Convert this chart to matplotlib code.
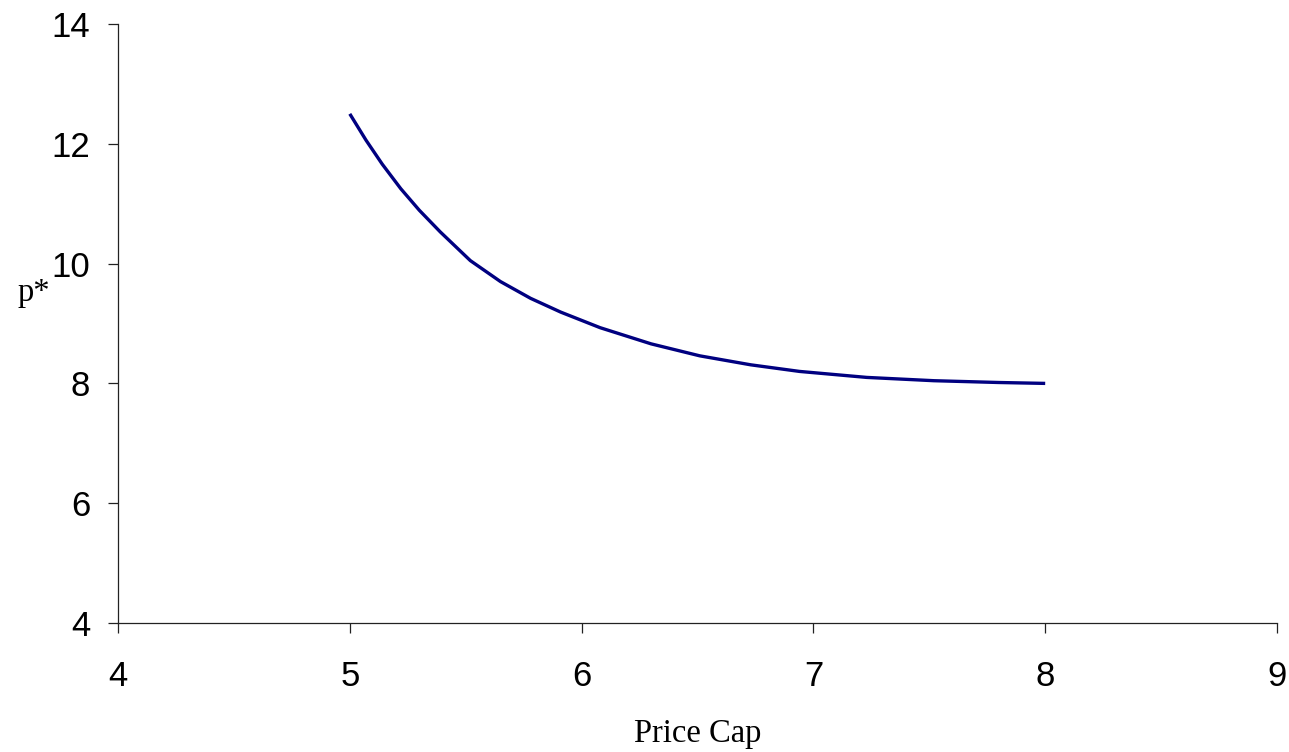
import matplotlib
matplotlib.use("Agg")
import matplotlib.pyplot as plt

price_cap = [5.00, 5.07, 5.14, 5.22, 5.30, 5.39, 5.52, 5.65, 5.78, 5.91, 6.08,
             6.30, 6.51, 6.73, 6.94, 7.23, 7.52, 7.80, 8.00]
p_star = [12.50, 12.06, 11.66, 11.25, 10.89, 10.53, 10.05, 9.70, 9.42, 9.19, 8.93,
          8.66, 8.46, 8.31, 8.20, 8.10, 8.045, 8.015, 8.00]
x_ticks = [4, 5, 6, 7, 8, 9]
y_ticks = [4, 6, 8, 10, 12, 14]

fig = plt.figure(figsize=(12.89, 7.52), dpi=100)
ax = fig.add_axes([118 / 1289, (752 - 623) / 752, (1277 - 118) / 1289, (623 - 24) / 752])

ax.plot(price_cap, p_star, color="#000080", linewidth=2.4, solid_capstyle="butt",
        solid_joinstyle="round")

ax.set_xlim(4, 9)
ax.set_ylim(4, 14)
ax.set_xticks(x_ticks)
ax.set_yticks(y_ticks)
ax.spines["top"].set_visible(False)
ax.spines["right"].set_visible(False)
for s in ("left", "bottom"):
    ax.spines[s].set_linewidth(0.9)
    ax.spines[s].set_color("#222222")
ax.tick_params(direction="out", length=7, width=0.9, color="#222222",
               labelsize=25, labelcolor="black")
ax.tick_params(axis="x", pad=20)
ax.tick_params(axis="y", pad=13)
for lab in ax.get_xticklabels() + ax.get_yticklabels():
    lab.set_fontfamily("Liberation Sans")

ax.set_xlabel("Price Cap", fontfamily="Liberation Serif", fontsize=23.5, va="baseline")
ax.xaxis.set_label_coords(0.5, (623 - 742) / 599)
ax.set_ylabel("p*", fontfamily="Liberation Serif", fontsize=23.5, rotation=0,
              ha="center", va="center")
ax.yaxis.set_label_coords((34 - 118) / 1159, (623 - 293) / 599)

fig.savefig("out.png", dpi=100)
